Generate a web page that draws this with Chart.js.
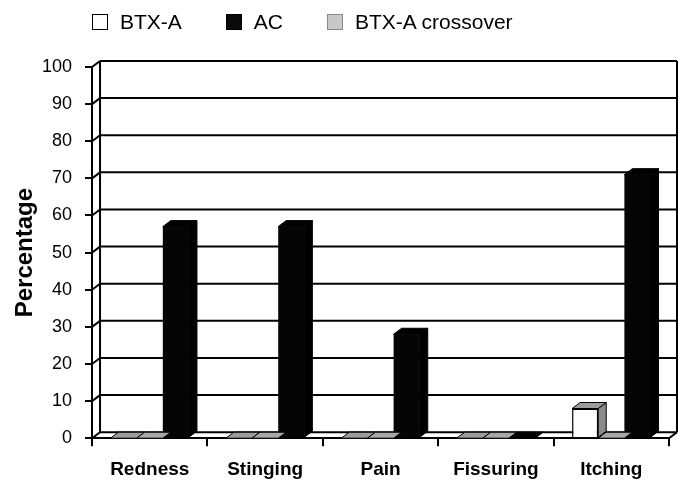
<!DOCTYPE html>
<html>
<head>
<meta charset="utf-8">
<script src="https://cdn.jsdelivr.net/npm/chart.js@4/dist/chart.umd.min.js"></script>
<style>
  html, body { margin:0; padding:0; background:#fff; }
  #wrap { position:relative; width:678px; height:483px; }
  #legend { position:absolute; top:10px; left:92px; display:flex; align-items:center;
            font-family:"Liberation Sans", Arial, sans-serif; font-size:21px; color:#000; }
  .item { display:flex; align-items:center; margin-right:44px; }
  .box { width:16px; height:16px; border:1px solid #000; margin-right:12px; box-sizing:border-box; }
</style>
</head>
<body>
<div id="wrap">
  <canvas id="c" width="678" height="483"></canvas>
  <div id="legend"></div>
</div>
<script>
// ---- data ----
const categories = ['Redness', 'Stinging', 'Pain', 'Fissuring', 'Itching'];
const seriesNames = ['BTX-A', 'AC', 'BTX-A crossover'];
const btxA = [0, 0, 0, 0, 8];
const ac = [57, 57, 28, 0, 71];
const btxACrossover = [0, 0, 0, 0, 0];
const yTicks = [0, 10, 20, 30, 40, 50, 60, 70, 80, 90, 100];

// ---- styles ----
const FONT = '"Liberation Sans", Arial, sans-serif';
const DX = 8, DY = 6;
const styles = {
  'BTX-A': { front: '#ffffff', border: '#000000', top: '#9c9c9c', side: '#8a8a8a', legend: '#ffffff', legendBorder: '#000' },
  'AC': { front: '#050505', border: '#000000', top: '#000000', side: '#000000', legend: '#0a0a0a', legendBorder: '#000' },
  'BTX-A crossover': { front: '#b0b0b0', border: '#000000', top: '#a8a8a8', side: '#8a8a8a', legend: '#c8c8c8', legendBorder: '#888' }
};

// legend (HTML, in the reference order)
const legendEl = document.getElementById('legend');
seriesNames.forEach(n => {
  const it = document.createElement('div'); it.className = 'item';
  const b = document.createElement('div'); b.className = 'box';
  b.style.background = styles[n].legend; b.style.borderColor = styles[n].legendBorder;
  const t = document.createElement('span'); t.textContent = n;
  it.appendChild(b); it.appendChild(t); legendEl.appendChild(it);
});

// drawing order on the axis: BTX-A, crossover, AC
const seriesData = { 'BTX-A': btxA, 'AC': ac, 'BTX-A crossover': btxACrossover };
const drawOrder = ['BTX-A', 'BTX-A crossover', 'AC'];
const datasets = drawOrder.map(n => ({
  label: n,
  data: seriesData[n],
  backgroundColor: styles[n].front,
  borderColor: styles[n].border,
  borderWidth: n === 'BTX-A' ? 1.5 : 0,
  categoryPercentage: 0.68,
  barPercentage: 1.0
}));

function line(ctx, x1, y1, x2, y2) { ctx.beginPath(); ctx.moveTo(x1, y1); ctx.lineTo(x2, y2); ctx.stroke(); }
function poly(ctx, pts, fill) {
  ctx.beginPath(); ctx.moveTo(pts[0][0], pts[0][1]);
  for (let i = 1; i < pts.length; i++) ctx.lineTo(pts[i][0], pts[i][1]);
  ctx.closePath(); ctx.fillStyle = fill; ctx.fill(); ctx.stroke();
}

const threeD = {
  id: 'threeD',
  beforeDatasetsDraw(chart) {
    const { ctx, chartArea: { left, right, top, bottom }, scales: { y } } = chart;
    ctx.save();
    ctx.strokeStyle = '#000'; ctx.lineWidth = 2;
    yTicks.forEach(v => {
      const py = y.getPixelForValue(v);
      line(ctx, left + DX, py - DY, right + DX, py - DY);
      line(ctx, left, py, left + DX, py - DY);
    });
    line(ctx, left + DX, top - DY, left + DX, bottom - DY);
    line(ctx, right + DX, top - DY, right + DX, bottom - DY);
    line(ctx, right, bottom, right + DX, bottom - DY);
    ctx.restore();
  },
  afterDatasetsDraw(chart) {
    const { ctx } = chart;
    ctx.save();
    ctx.strokeStyle = '#000'; ctx.lineWidth = 1;
    chart.data.datasets.forEach((ds, di) => {
      const st = styles[ds.label];
      chart.getDatasetMeta(di).data.forEach((bar, i) => {
        const { x, y, base, width } = bar.getProps(['x', 'y', 'base', 'width'], true);
        const l = x - width / 2, r = x + width / 2;
        if (ds.data[i] === 0) {
          poly(ctx, [[l, base], [r, base], [r + DX, base - DY], [l + DX, base - DY]], st.top);
          return;
        }
        poly(ctx, [[r, y], [r + DX, y - DY], [r + DX, base - DY], [r, base]], st.side);
        poly(ctx, [[l, y], [r, y], [r + DX, y - DY], [l + DX, y - DY]], st.top);
      });
    });
    ctx.restore();
  }
};

new Chart(document.getElementById('c'), {
  type: 'bar',
  data: { labels: categories, datasets },
  options: {
    responsive: false,
    animation: false,
    layout: { padding: { top: 67, right: 9, left: 0, bottom: -10 } },
    plugins: { legend: { display: false }, tooltip: { enabled: false } },
    scales: {
      x: {
        grid: { display: true, drawOnChartArea: false, drawTicks: true, tickLength: 8, color: '#000', lineWidth: 2, offset: true },
        border: { display: true, color: '#000', width: 2 },
        ticks: { font: { family: FONT, size: 19, weight: 'bold' }, color: '#000', padding: 12 }
      },
      y: {
        min: 0, max: 100,
        afterBuildTicks: (scale) => { scale.ticks = yTicks.map(v => ({ value: v })); },
        ticks: { font: { family: FONT, size: 18 }, color: '#000', padding: 13 },
        grid: { drawOnChartArea: false, drawTicks: true, tickLength: 7, color: '#000', lineWidth: 2 },
        border: { display: true, color: '#000', width: 2 },
        title: { display: true, text: 'Percentage', color: '#000', font: { family: FONT, size: 24, weight: 'bold', lineHeight: 1 }, padding: { top: 13, bottom: -8 } }
      }
    }
  },
  plugins: [threeD]
});
</script>
</body>
</html>
